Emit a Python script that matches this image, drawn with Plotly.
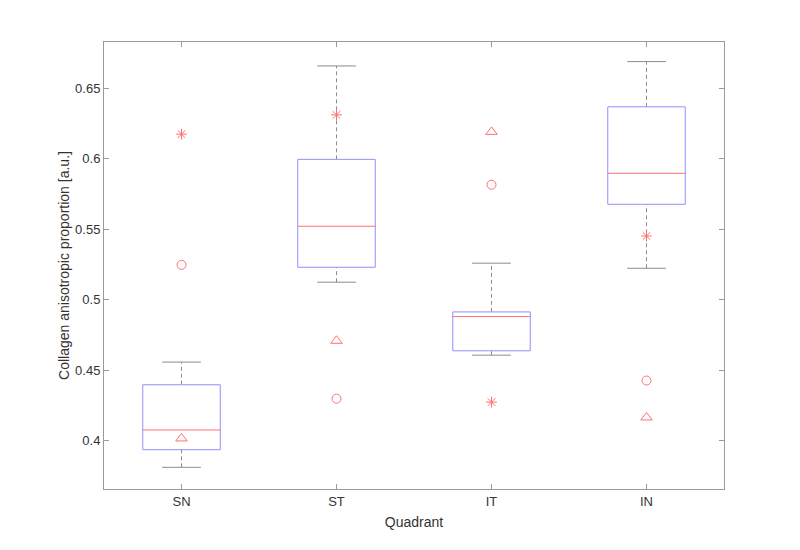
import plotly.graph_objects as go

categories = ["SN", "ST", "IT", "IN"]
lower_whisker = [0.3811, 0.5125, 0.4607, 0.5224]
q1 = [0.3936, 0.5231, 0.4638, 0.5678]
median = [0.4076, 0.5522, 0.4881, 0.5898]
q3 = [0.4397, 0.5997, 0.4914, 0.6370]
upper_whisker = [0.4558, 0.6660, 0.5260, 0.6691]
star_vals = [0.6176, 0.6313, 0.4274, 0.5453]
circle_vals = [0.5248, 0.4298, 0.5817, 0.4427]
triangle_vals = [0.4016, 0.4709, 0.6192, 0.4165]

pos = list(range(1, len(categories) + 1))
BOX_HW = 0.25
CAP_HW = 0.125

BLUE = "#8f8fff"
RED = "#ff7070"
GRAY = "#8c8c8c"
AX = "#9a9a9a"
TXT = "#333333"

fig = go.Figure()

# whiskers (dashed)
wx, wy = [], []
for p, lo, a, b, hi in zip(pos, lower_whisker, q1, q3, upper_whisker):
    wx += [p, p, None, p, p, None]
    wy += [b, hi, None, lo, a, None]
fig.add_trace(go.Scatter(x=wx, y=wy, mode="lines",
                         line=dict(color=GRAY, width=1, dash="4px,3px"),
                         hoverinfo="skip", showlegend=False))
# caps
cx, cy = [], []
for p, lo, hi in zip(pos, lower_whisker, upper_whisker):
    cx += [p - CAP_HW, p + CAP_HW, None, p - CAP_HW, p + CAP_HW, None]
    cy += [hi, hi, None, lo, lo, None]
fig.add_trace(go.Scatter(x=cx, y=cy, mode="lines",
                         line=dict(color=GRAY, width=1),
                         hoverinfo="skip", showlegend=False))
# boxes
bx, by = [], []
for p, a, b in zip(pos, q1, q3):
    bx += [p - BOX_HW, p + BOX_HW, p + BOX_HW, p - BOX_HW, p - BOX_HW, None]
    by += [a, a, b, b, a, None]
fig.add_trace(go.Scatter(x=bx, y=by, mode="lines",
                         line=dict(color=BLUE, width=1),
                         hoverinfo="skip", showlegend=False))
# medians
mx, my = [], []
for p, m in zip(pos, median):
    mx += [p - BOX_HW, p + BOX_HW, None]
    my += [m, m, None]
fig.add_trace(go.Scatter(x=mx, y=my, mode="lines",
                         line=dict(color=RED, width=1),
                         hoverinfo="skip", showlegend=False))

# individual markers
fig.add_trace(go.Scatter(x=pos, y=star_vals, mode="markers",
                         marker=dict(symbol="asterisk-open", size=9, color=RED,
                                     line=dict(color=RED, width=1)),
                         showlegend=False))
fig.add_trace(go.Scatter(x=pos, y=circle_vals, mode="markers",
                         marker=dict(symbol="circle-open", size=9, color=RED,
                                     line=dict(color=RED, width=1)),
                         showlegend=False))
fig.add_trace(go.Scatter(x=pos, y=triangle_vals, mode="markers",
                         marker=dict(symbol="triangle-up-open", size=10, color=RED,
                                     line=dict(color=RED, width=1)),
                         showlegend=False))

font = dict(family="Liberation Sans, Arial, sans-serif", size=13, color=TXT)

fig.update_layout(
    width=792, height=542,
    margin=dict(l=96, r=76, t=34, b=61),
    paper_bgcolor="white", plot_bgcolor="white",
    font=font,
    xaxis=dict(
        range=[0.5, 4.5], tickvals=pos, ticktext=categories,
        showgrid=False, zeroline=False,
        showline=True, linecolor=AX, linewidth=1, mirror="ticks",
        ticks="inside", ticklen=5, tickcolor=AX,
        tickfont=dict(size=13, color=TXT),
        title=dict(text="Quadrant", font=dict(size=14, color=TXT), standoff=9),
    ),
    yaxis=dict(
        range=[0.3657, 0.6830],
        tickvals=[0.4, 0.45, 0.5, 0.55, 0.6, 0.65],
        ticktext=["0.4", "0.45", "0.5", "0.55", "0.6", "0.65"],
        showgrid=False, zeroline=False,
        showline=True, linecolor=AX, linewidth=1, mirror="ticks",
        ticks="inside", ticklen=5, tickcolor=AX,
        tickfont=dict(size=13, color=TXT),
        title=dict(text="Collagen anisotropic proportion [a.u.]",
                   font=dict(size=14, color=TXT), standoff=2),
    ),
)

fig.write_html("out.html")
